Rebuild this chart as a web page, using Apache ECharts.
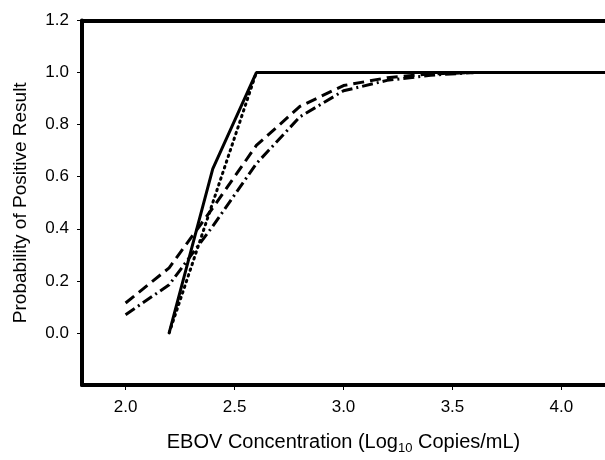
<!DOCTYPE html>
<html>
<head>
<meta charset="utf-8">
<script src="https://cdn.jsdelivr.net/npm/echarts@6/dist/echarts.min.js"></script>
<style>html,body{margin:0;padding:0;background:#fff}#c{width:605px;height:460px}</style>
</head>
<body>
<div id="c"></div>
<script>
// Data
const xSolid   = [2.2, 2.4, 2.6, 3.0, 3.5, 4.0, 4.2];
const ySolid   = [0.0, 0.63, 1.0, 1.0, 1.0, 1.0, 1.0];
const xDotted  = [2.2, 2.4, 2.6, 3.0, 3.5, 4.0, 4.2];
const yDotted  = [0.0, 0.50, 1.0, 1.0, 1.0, 1.0, 1.0];
const xDashed  = [2.0, 2.2, 2.4, 2.6, 2.8, 3.0, 3.2, 3.4, 3.6, 4.0, 4.2];
const yDashed  = [0.115, 0.25, 0.48, 0.72, 0.87, 0.95, 0.98, 0.995, 1.0, 1.0, 1.0];
const xDashDot = [2.0, 2.2, 2.4, 2.6, 2.8, 3.0, 3.2, 3.4, 3.6, 4.0, 4.2];
const yDashDot = [0.07, 0.185, 0.41, 0.65, 0.83, 0.93, 0.97, 0.99, 1.0, 1.0, 1.0];
const xTicks = [2.0, 2.5, 3.0, 3.5, 4.0];
const yTicks = [0.0, 0.2, 0.4, 0.6, 0.8, 1.0, 1.2];

const pair = (xs, ys) => xs.map((x, i) => [x, ys[i]]);
const font = 'Liberation Sans, Arial, sans-serif';

const chart = echarts.init(document.getElementById('c'), null, {renderer: 'canvas'});
const lineSeries = (data, type, cap) => ({
  type: 'line', data, symbol: 'none', smooth: false, clip: true,
  lineStyle: {color: '#000', width: 3, type, cap: cap || 'butt'}
});
chart.setOption({
  animation: false,
  backgroundColor: '#fff',
  grid: {left: 82, top: 20.5, right: -3, bottom: 68, containLabel: false},
  xAxis: [{
    type: 'value', min: 1.8, max: 4.2, position: 'bottom',
    splitLine: {show: false},
    axisLine: {show: true, onZero: false, lineStyle: {color: '#000', width: 4}},
    axisTick: {show: true, inside: false, length: 5, customValues: xTicks, lineStyle: {color: '#000', width: 1}},
    axisLabel: {customValues: xTicks, formatter: v => v.toFixed(1), color: '#000', fontSize: 17, fontFamily: font, margin: 14},
    name: 'EBOV Concentration (Log{sub|10} Copies/mL)',
    nameLocation: 'middle', nameGap: 45,
    nameTextStyle: {color: '#000', fontSize: 20, fontFamily: font,
      rich: {sub: {fontSize: 13, fontFamily: font, color: '#000', padding: [12, 0, 0, 0]}}}
  }, {
    type: 'value', min: 1.8, max: 4.2, position: 'top',
    splitLine: {show: false},
    axisLine: {show: true, onZero: false, lineStyle: {color: '#000', width: 4}},
    axisTick: {show: false}, axisLabel: {show: false}
  }],
  yAxis: {
    type: 'value', min: -0.2, max: 1.2,
    splitLine: {show: false},
    axisLine: {show: true, onZero: false, lineStyle: {color: '#000', width: 4}},
    axisTick: {show: true, inside: false, length: 5, customValues: yTicks, lineStyle: {color: '#000', width: 1}},
    axisLabel: {customValues: yTicks, formatter: v => v.toFixed(1), color: '#000', fontSize: 17, fontFamily: font, margin: 13},
    name: 'Probability of Positive Result',
    nameLocation: 'middle', nameGap: 52, nameRotate: 90,
    nameTextStyle: {color: '#000', fontSize: 19, fontFamily: font}
  },
  series: [
    lineSeries(pair(xDashed, yDashed), [11, 6]),
    lineSeries(pair(xDashDot, yDashDot), [11, 4, 2, 4]),
    lineSeries(pair(xDotted, yDotted), [1.5, 4.5], 'round'),
    lineSeries(pair(xSolid, ySolid), 'solid')
  ]
});
</script>
</body>
</html>
